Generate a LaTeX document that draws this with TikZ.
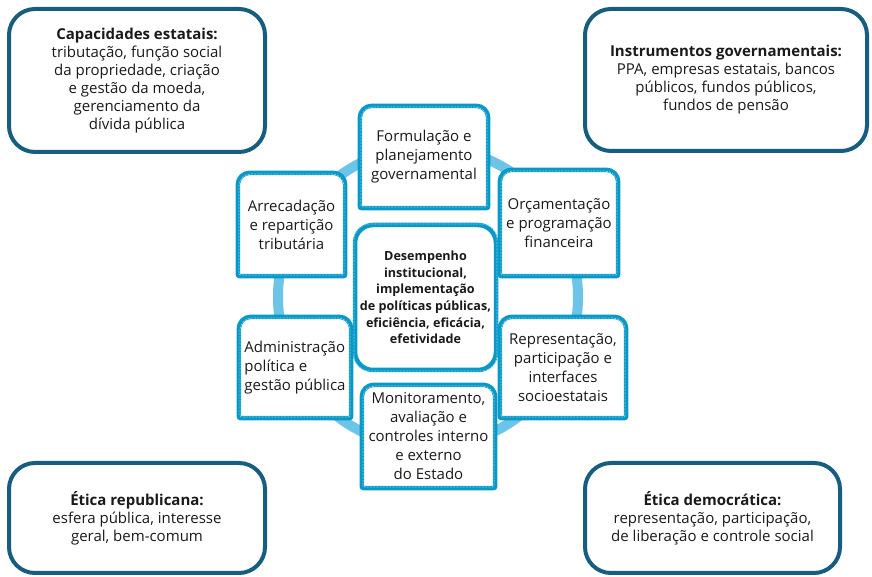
\documentclass[tikz,border=0pt]{standalone}
\usepackage{fontspec}
\setmainfont{Open Sans}
\usetikzlibrary{backgrounds}
\definecolor{deepteal}{RGB}{22,94,128}
\definecolor{tabcyan}{RGB}{8,153,199}
\definecolor{tabdashc}{RGB}{125,206,234}
\definecolor{ringblue}{RGB}{108,196,232}
\definecolor{inktext}{RGB}{26,26,26}
\pgfdeclarelayer{ringlayer}
\pgfsetlayers{ringlayer,background,main}
\tikzset{
  cornerbox/.style={draw=deepteal, line width=4pt, rounded corners=26pt, fill=white,
    align=center, inner sep=0pt, text=inktext, font=\fontsize{15}{18}\selectfont},
  tabnode/.style={inner sep=0pt, align=center, text=inktext, font=\fontsize{15}{19}\selectfont},
  tabedge/.style={draw=tabcyan, line width=4.5pt, fill=white},
  tabdash/.style={draw=tabdashc, line width=0.8pt, dash pattern=on 2pt off 1.2pt},
  corebox/.style={tabedge, rounded corners=18pt, inner sep=0pt, align=center, text=inktext,
    font=\bfseries\fontsize{12.6}{16.7}\selectfont},
  ring/.style={draw=ringblue, line width=10pt}
}
% frame with rounded top corners and nearly square bottom corners around a node
\newcommand\tabframe[1]{%
  \draw[tabedge] ([yshift=2pt]#1.south west) -- ([yshift=-12pt]#1.north west)
    arc[start angle=180,end angle=90,radius=12pt] -- ([xshift=-12pt]#1.north east)
    arc[start angle=90,end angle=0,radius=12pt] -- ([yshift=2pt]#1.south east)
    arc[start angle=0,end angle=-90,radius=2pt] -- ([xshift=2pt]#1.south west)
    arc[start angle=270,end angle=180,radius=2pt] -- cycle;
  \draw[tabdash] ([shift={(1.2pt,3.2pt)}]#1.south west) -- ([shift={(1.2pt,-13.2pt)}]#1.north west)
    arc[start angle=180,end angle=90,radius=12pt] -- ([shift={(-13.2pt,-1.2pt)}]#1.north east)
    arc[start angle=90,end angle=0,radius=12pt] -- ([shift={(-1.2pt,3.2pt)}]#1.south east)
    arc[start angle=0,end angle=-90,radius=2pt] -- ([shift={(3.2pt,1.2pt)}]#1.south west)
    arc[start angle=270,end angle=180,radius=2pt] -- cycle;
}
\begin{document}
\begin{tikzpicture}[x=1pt,y=1pt]
\useasboundingbox (0,0) rectangle (872,577);

% ring linking the stages of the cycle
\begin{pgfonlayer}{ringlayer}
  \draw[ring] (428,280) circle[radius=150];
\end{pgfonlayer}

% corner boxes
\node[cornerbox, minimum width=256pt, minimum height=143pt] (cap) at (137,496.5)
  {\textbf{Capacidades estatais:}\\tributação, função social\\da propriedade, criação\\e gestão da moeda,\\gerenciamento da\\dívida pública};
\node[cornerbox, minimum width=282pt, minimum height=142pt] (instr) at (726,497)
  {\textbf{Instrumentos governamentais:}\\PPA, empresas estatais, bancos\\públicos, fundos públicos,\\fundos de pensão};
\node[cornerbox, minimum width=256pt, minimum height=110pt] (rep) at (137,59)
  {\textbf{Ética republicana:}\\esfera pública, interesse\\geral, bem-comum};
\node[cornerbox, minimum width=255pt, minimum height=110pt] (dem) at (712.5,59)
  {\textbf{Ética democrática:}\\representação, participação,\\de liberação e controle social};

% stages around the ring
\node[tabnode, minimum width=128pt, minimum height=102pt] (form) at (424,420)
  {Formulação e\\planejamento\\governamental};
\node[tabnode, minimum width=107pt, minimum height=103pt] (arrec) at (291.5,352.5)
  {Arrecadação\\e repartição\\tributária};
\node[tabnode, minimum width=118pt, minimum height=106pt] (orc) at (559,354)
  {Orçamentação\\e programação\\financeira};
\node[tabnode, minimum width=126pt, minimum height=101pt] (repres) at (563,209.5)
  {Representação,\\participação e\\interfaces\\socioestatais};
\node[tabnode, minimum width=112pt, minimum height=101pt, align=left] (adm) at (295,209.5)
  {Administração\\política e\\gestão pública};
\node[tabnode, minimum width=133pt, minimum height=103pt] (monit) at (428.5,140.5)
  {Monitoramento,\\avaliação e\\controles interno\\e externo\\do Estado};

\begin{pgfonlayer}{background}
  \tabframe{form}
  \tabframe{arrec}
  \tabframe{orc}
  \tabframe{repres}
  \tabframe{adm}
  \tabframe{monit}
\end{pgfonlayer}

% central box
\node[corebox, minimum width=141pt, minimum height=145pt] (core) at (425.5,279.5)
  {Desempenho\\institucional,\\implementação\\de políticas públicas,\\eficiência, eficácia,\\efetividade};
\draw[tabdash, rounded corners=16pt] ([shift={(1.2pt,1.2pt)}]core.south west) rectangle ([shift={(-1.2pt,-1.2pt)}]core.north east);
\end{tikzpicture}
\end{document}
